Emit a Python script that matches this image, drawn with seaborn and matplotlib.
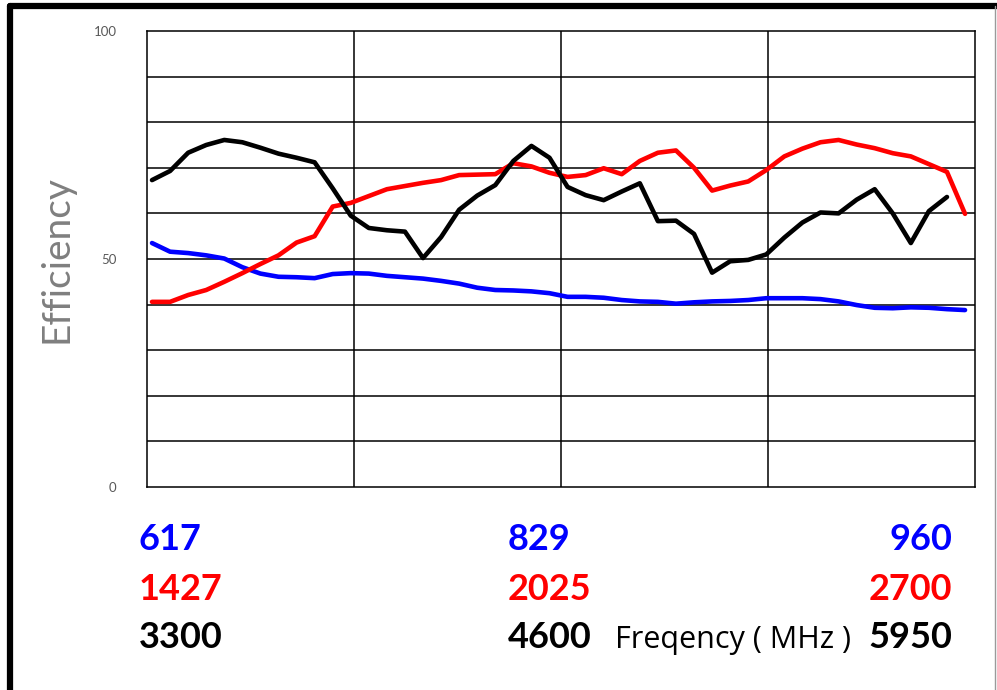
import numpy as np
import pandas as pd
import matplotlib.pyplot as plt
import seaborn as sns
from matplotlib.lines import Line2D

# --- data (efficiency, %) ---
low_band = [53.5, 51.6, 51.3, 50.8, 50.1, 48.2, 46.8, 46.1, 46.0, 45.8,
            46.7, 46.9, 46.8, 46.3, 46.0, 45.7, 45.2, 44.6, 43.7, 43.2,
            43.1, 42.9, 42.5, 41.7, 41.7, 41.5, 41.0, 40.7, 40.6, 40.2,
            40.5, 40.7, 40.8, 41.0, 41.4, 41.4, 41.4, 41.2, 40.7, 39.9,
            39.3, 39.2, 39.4, 39.3, 39.0, 38.8]
mid_band = [40.6, 40.6, 42.1, 43.2, 45.0, 46.9, 48.9, 50.8, 53.6, 55.0,
            61.5, 62.3, 63.8, 65.3, 66.0, 66.7, 67.3, 68.4, 68.5, 68.6,
            71.0, 70.3, 68.9, 68.0, 68.4, 69.9, 68.6, 71.5, 73.3, 73.8,
            70.0, 65.0, 66.1, 67.0, 69.5, 72.5, 74.2, 75.6, 76.1, 75.1,
            74.3, 73.2, 72.5, 70.8, 69.1, 59.9]
high_band = [67.3, 69.3, 73.3, 75.0, 76.1, 75.6, 74.4, 73.1, 72.2, 71.2,
             65.5, 59.5, 56.8, 56.3, 56.0, 50.2, 54.8, 60.8, 63.9, 66.2,
             71.5, 74.8, 72.2, 65.8, 64.0, 62.9, 64.8, 66.6, 58.3, 58.4,
             55.5, 47.0, 49.5, 49.8, 51.0, 54.7, 58.0, 60.2, 60.0, 63.0,
             65.3, 60.0, 53.5, 60.5, 63.6]

low_labels = ["617", "829", "960"]
mid_labels = ["1427", "2025", "2700"]
high_labels = ["3300", "4600", "5950"]
y_labels = {0: "0", 50: "50", 100: "100"}

rows = []
for name, vals in [("low", low_band), ("mid", mid_band), ("high", high_band)]:
    for i, v in enumerate(vals):
        rows.append({"idx": i, "eff": v, "band": name})
df = pd.DataFrame(rows)

sns.set_theme(style="white")
plt.rcParams['font.family'] = ['Lato', 'DejaVu Sans']

fig = plt.figure(figsize=(9.97, 6.9), dpi=100)
ax = fig.add_axes([0.1474, 0.2942, 0.8305, 0.6609])

x0, x1 = -0.28, 45.55
for k in range(1, 4):
    ax.axvline(x0 + k * (x1 - x0) / 4, color="black", lw=1.1, zorder=1)
for yv in range(10, 100, 10):
    ax.axhline(yv, color="black", lw=1.1, zorder=1)

sns.lineplot(data=df, x="idx", y="eff", hue="band",
             palette={"low": "#0000FF", "mid": "#FF0000", "high": "black"},
             lw=3.3, legend=False, ax=ax, zorder=3)

ax.set_xlim(x0, x1)
ax.set_ylim(0, 100)
ax.set_xticks([])
ax.set_yticks(list(y_labels.keys()))
ax.set_yticklabels(list(y_labels.values()), color="#595959", fontsize=9.5)
ax.tick_params(axis="y", length=0, pad=22)
ax.set_xlabel("")
ax.set_ylabel("Efficiency", color="#7f7f7f", fontsize=28)
ax.yaxis.set_label_coords(-0.088, 0.5)
for s in ax.spines.values():
    s.set_color("black")
    s.set_linewidth(1.1)

# band frequency labels under the plot
xs = [139 / 997, 508 / 997, 952 / 997]
has = ["left", "left", "right"]
for r, (labels, col) in enumerate([(low_labels, "#0000FF"),
                                   (mid_labels, "#FF0000"),
                                   (high_labels, "black")]):
    yy = 1 - (540 + 49 * r) / 690
    for lab, xx, ha in zip(labels, xs, has):
        fig.text(xx, yy, lab, color=col, fontsize=26, fontweight="bold",
                 ha=ha, va="center")
fig.text(733 / 997, 1 - 640 / 690, "Freqency ( MHz )", fontsize=22,
         family=["Open Sans", "DejaVu Sans"],
         color="black", ha="center", va="center")

# outer box, cropped at the bottom like the reference
fig.add_artist(Line2D([10 / 997, 1], [1 - 6 / 690] * 2, color="black",
                      lw=4.5, transform=fig.transFigure))
fig.add_artist(Line2D([10 / 997] * 2, [0, 1 - 6 / 690], color="black",
                      lw=4.5, transform=fig.transFigure))
fig.add_artist(Line2D([995 / 997] * 2, [0, 1 - 6 / 690], color="#9a9a9a",
                      lw=1, transform=fig.transFigure))

fig.savefig("out.png", dpi=100)
